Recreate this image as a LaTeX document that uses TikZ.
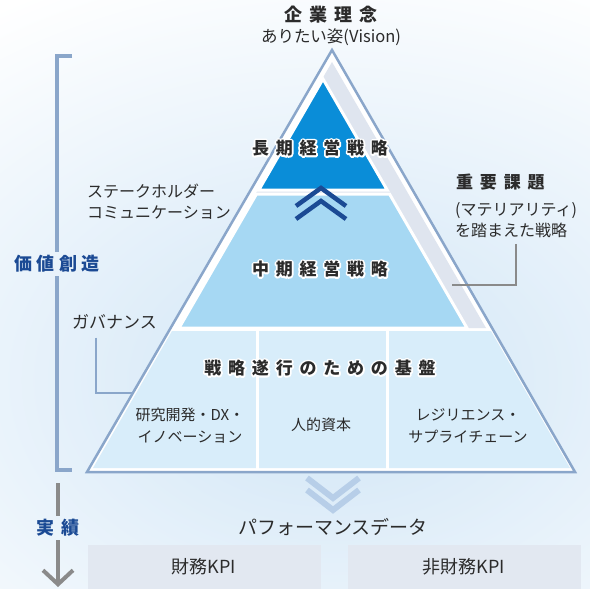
\documentclass[tikz,border=0pt]{standalone}
\usepackage{fontspec}
\setmainfont{Noto Sans CJK JP}
\newfontfamily\widejp[LetterSpace=40]{Noto Sans CJK JP}
\usetikzlibrary{calc,arrows.meta}

\definecolor{ink}{HTML}{2B2B2B}
\definecolor{edge}{HTML}{8AA6CA}
\definecolor{darkblue}{HTML}{0A8DD8}
\definecolor{midblue}{HTML}{A6D8F3}
\definecolor{baseblue}{HTML}{D8EDFA}
\definecolor{band}{HTML}{DFE5EF}
\definecolor{navy}{HTML}{1B4A94}
\definecolor{paleblue}{HTML}{B7CEE8}
\definecolor{kpibox}{HTML}{E2E8F1}
\definecolor{glow}{HTML}{D0E5F6}
\definecolor{linegray}{HTML}{8A8A8A}

% white halo: a stroked copy under the text
\newcommand{\halo}[1]{\rlap{\color{white}\special{pdf:literal direct 1 Tr 3.5 w 1 j}#1\special{pdf:literal direct 0 Tr}}#1}

\tikzstyle{note} = [text=ink, inner sep=0pt, font=\fontsize{15}{22}\selectfont]
\tikzstyle{title} = [text=ink, inner sep=0pt, font=\widejp\bfseries\fontsize{18}{20}\selectfont]
\tikzstyle{tier} = [text=ink, inner sep=0pt, font=\widejp\bfseries\fontsize{17}{20}\selectfont]
\tikzstyle{side} = [text=navy, font=\widejp\bfseries\fontsize{18}{20}\selectfont]
\tikzstyle{kpi} = [fill=kpibox, text=ink, minimum width=233pt, minimum height=44pt, font=\fontsize{18}{20}\selectfont]
\tikzstyle{gap} = [draw=white, line width=3pt]
\tikzstyle{bracket} = [draw=edge, line width=4pt]
\tikzstyle{stem} = [draw=linegray, line width=4pt]
\tikzstyle{upchev} = [draw=navy, line width=4.5pt]
\tikzstyle{downchev} = [draw=paleblue, line width=6pt]

\begin{document}
\begin{tikzpicture}[x=1pt, y=-1pt]
\useasboundingbox (0,0) rectangle (590,589);
% soft glow behind the pyramid
\begin{scope}
\clip (0,0) rectangle (590,589);
\shade[inner color=glow, outer color=white] (331,380) ellipse (620 and 440);
\end{scope}

% pyramid
\coordinate (apex) at (332,50);
\coordinate (left) at (87,472);
\coordinate (right) at (575,472);
\filldraw[fill=white, draw=edge, line width=2.5pt] (apex) -- (left) -- (right) -- cycle;
\fill[band] (332,62) -- (178,328) -- (486,328) -- cycle;

\coordinate (tip) at (323,79);
\coordinate (midl) at (179,328);
\coordinate (midr) at (467,328);
\filldraw[fill=midblue, gap] ($(tip)!0.462!(midl)$) -- (midl) -- (midr) -- ($(tip)!0.462!(midr)$) -- cycle;
\filldraw[fill=darkblue, gap] (tip) -- ($(tip)!0.446!(midl)$) -- ($(tip)!0.446!(midr)$) -- cycle;

\fill[baseblue] (172,331) -- (93,468) -- (570,468) -- (491,331) -- cycle;
\draw[gap] (257,331) -- (257,469);
\draw[gap] (387,331) -- (387,469);

\foreach \d in {0,13}
    \draw[upchev] (296,206+\d) -- (321,188+\d) -- (346,206+\d);
\foreach \d in {0,12}
    \draw[downchev] (307,478+\d) -- (333,498+\d) -- (359,478+\d);

% labels
\node[title] (philosophy) at (331,15) {企業理念};
\node[note, font=\fontsize{16.5}{20}\selectfont] (vision) at (331,37) {ありたい姿(Vision)};
\node[tier] (longterm) at (320,148) {\halo{長期経営戦略}};
\node[tier] (midterm) at (320,269) {\halo{中期経営戦略}};
\node[tier] (basis) at (320,368) {\halo{戦略遂行のための基盤}};
\node[note, align=center] (rnd) at (190,426) {研究開発・DX・\\イノベーション};
\node[note] (hr) at (321,425) {人的資本};
\node[note, align=center] (resil) at (468,426) {レジリエンス・\\サプライチェーン};

\node[note, align=left, anchor=west, font=\fontsize{16}{21}\selectfont] (stake) at (87,202) {ステークホルダー\\コミュニケーション};
\node[note, anchor=west, font=\fontsize{17}{20}\selectfont] (gov) at (72,322) {ガバナンス};
\node[tier, anchor=west] (issues) at (456,182) {重要課題};
\node[note, align=left, anchor=west, font=\fontsize{16}{21}\selectfont] (mat) at (455,220) {(マテリアリティ)\\を踏まえた戦略};

\coordinate (govend) at (132,393);
\coordinate (matend) at (452,285);
\draw[draw=edge, line width=2pt] ([xshift=24pt, yshift=-8pt]gov.south west) |- (govend);
\draw[draw=linegray, line width=2pt] ([yshift=-6pt]mat.south) |- (matend);

% value creation bracket
\node[side] (kachi) at (57,264) {\addfontfeature{LetterSpace=25}価値創造};
\draw[bracket] (72,56) -| (kachi.north);
\draw[bracket] (kachi.south) |- (72,470);

% results
\node[side] (jisseki) at (58,528) {実績};
\coordinate (arrowend) at (58,587);
\draw[stem] (58,483) -- (jisseki.north);
\draw[stem, -{Straight Barb[length=14pt, width=30pt]}] (jisseki.south) -- (arrowend);

\node[note, font=\fontsize{19}{21}\selectfont] (perf) at (333,527) {パフォーマンスデータ};
\node[kpi] (fin) at (204,567) {財務KPI};
\node[kpi] (nonfin) at (464,567) {非財務KPI};
\end{tikzpicture}
\end{document}
